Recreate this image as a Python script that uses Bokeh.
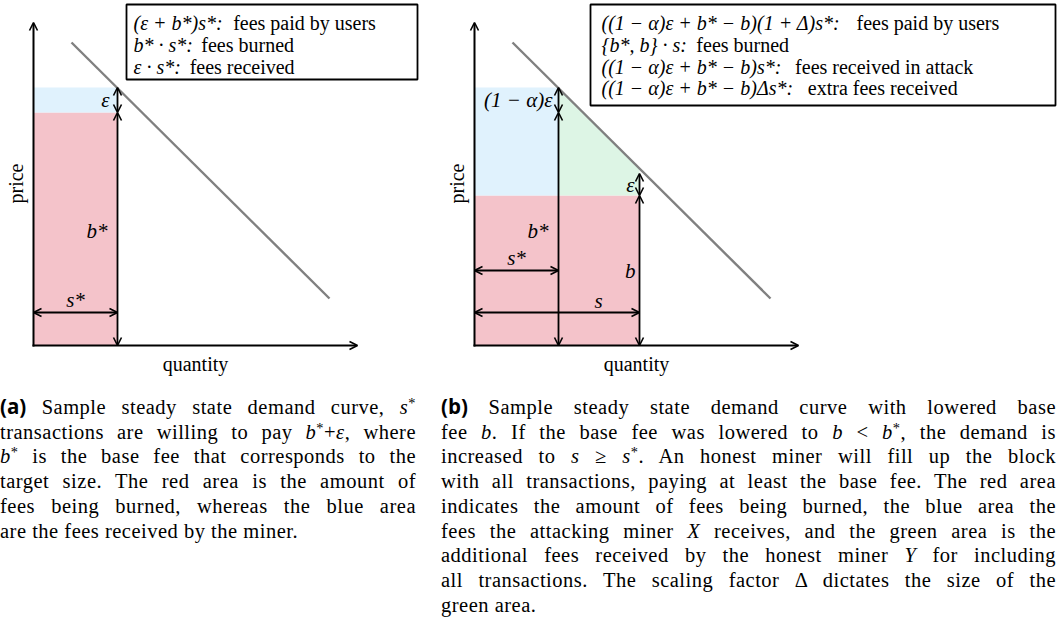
import numpy as np
from bokeh.plotting import figure
from bokeh.models import Range1d, Arrow, OpenHead, Div, Spacer
from bokeh.layouts import column, row
from bokeh.core.properties import value
from bokeh.embed import file_html
from bokeh.resources import INLINE

# ---------------- data (diagram units, origin = axes corner) ----------------
axis_len = 323
demand_q = [38, 296]          # demand curve end points (quantity)
demand_p = [303, 47]          # demand curve end points (price)

# panel (a)
a_s_star = 84
a_b_star = 233
a_eps = 25

# panel (b)
b_s_star = 84
b_s = 165
b_b_star = 233
b_alpha_eps = 25              # (1 - alpha) * eps
b_b = 150
b_eps = 22

legend_a_math = ["(ε + b*)s*:", "b* · s*:", "ε · s*:"]
legend_a_text = ["fees paid by users", "fees burned", "fees received"]
legend_b_math = ["((1 − α)ε + b* − b)(1 + Δ)s*:", "{b*, b} · s:",
                 "((1 − α)ε + b* − b)s*:", "((1 − α)ε + b* − b)Δs*:"]
legend_b_text = ["fees paid by users", "fees burned",
                 "fees received in attack", "extra fees received"]

x_label = "quantity"
y_label = "price"

cap_a_lines = [
    "<b class='lab'>(a)</b> Sample steady state demand curve, <i>s</i><sup>*</sup>",
    "transactions are willing to pay <i>b</i><sup>*</sup>+<i>ε</i>, where",
    "<i>b</i><sup>*</sup> is the base fee that corresponds to the",
    "target size. The red area is the amount of",
    "fees being burned, whereas the blue area",
    "are the fees received by the miner.",
]
cap_b_lines = [
    "<b class='lab'>(b)</b> Sample steady state demand curve with lowered base",
    "fee <i>b</i>. If the base fee was lowered to <i>b</i> &lt; <i>b</i><sup>*</sup>, the demand is",
    "increased to <i>s</i> ≥ <i>s</i><sup>*</sup>. An honest miner will fill up the block",
    "with all transactions, paying at least the base fee. The red area",
    "indicates the amount of fees being burned, the blue area the",
    "fees the attacking miner <i>X</i> receives, and the green area is the",
    "additional fees received by the honest miner <i>Y</i> for including",
    "all transactions. The scaling factor Δ dictates the size of the",
    "green area.",
]

# ---------------- styles ----------------
RED = "#f4c3ca"
BLUE = "#e0f2fd"
GREEN = "#ddf5e5"
GREY = "#808080"
SERIF = value("Liberation Serif")
FS = 20
HEAD = dict(size=8, line_width=1.6, line_color="black")
FIG_H = 378

# approximate advance widths (em) of Liberation Serif Italic, used to place
# the legend descriptions right after the formulas
ITW = {"(": .333, ")": .333, "{": .4, "}": .4, " ": .25, "+": .675, "−": .675,
       "*": .5, ":": .333, "·": .25, ",": .25, "1": .5, "b": .5, "s": .389,
       "ε": .44, "α": .5, "Δ": .612}


def text_w(t, fs):
    return sum(ITW.get(c, .5) for c in t) * fs * 1.04


def make_fig(width, x0):
    p = figure(width=width, height=FIG_H,
               x_range=Range1d(-x0, width - x0), y_range=Range1d(345 - FIG_H, 345),
               output_backend="svg", toolbar_location=None, min_border=0,
               x_axis_location=None, y_axis_location=None)
    p.grid.visible = False
    p.outline_line_color = None
    return p


def axes(p):
    p.add_layout(Arrow(end=OpenHead(**HEAD), x_start=0, y_start=0, x_end=axis_len + 1,
                       y_end=0, line_width=2, line_cap="square"))
    p.add_layout(Arrow(end=OpenHead(**HEAD), x_start=0, y_start=0, x_end=0,
                       y_end=axis_len, line_width=2, line_cap="square"))
    p.text(x=[-18], y=[162], text=[y_label], angle=np.pi / 2, text_align="center",
           text_baseline="middle", text_font=SERIF, text_font_size="20px",
           text_color="black")
    p.text(x=[162], y=[-18], text=[x_label], text_align="center",
           text_baseline="middle", text_font=SERIF, text_font_size="20px",
           text_color="black")


def darrow(p, x0, y0, x1, y1):
    p.add_layout(Arrow(start=OpenHead(**HEAD), end=OpenHead(**HEAD), x_start=x0,
                       y_start=y0, x_end=x1, y_end=y1, line_width=1.8))


def label(p, x, y, t, align):
    p.text(x=[x], y=[y], text=[t], text_align=align, text_baseline="middle",
           text_font=SERIF, text_font_style="italic", text_font_size="21px",
           text_color="black")


def legend(p, left, right, top, bottom, tx, math, desc, ys):
    p.quad(left=[left], right=[right], top=[top], bottom=[bottom], fill_color="white",
           line_color="black", line_width=1.8)
    p.text(x=[tx] * len(math), y=ys, text=math, text_align="left",
           text_baseline="middle", text_font=SERIF, text_font_style="italic",
           text_font_size="%dpx" % FS, text_color="black")
    desc_x = [tx + text_w(m, FS) + 6 for m in math]
    p.text(x=desc_x, y=ys, text=desc, text_align="left", text_baseline="middle",
           text_font=SERIF, text_font_size="%dpx" % FS, text_color="black")


# ---------------- panel (a) ----------------
pa = make_fig(441, 33)
pa.quad(left=[0], right=[a_s_star], bottom=[0], top=[a_b_star], fill_color=RED,
        line_color=None)
pa.quad(left=[0], right=[a_s_star], bottom=[a_b_star], top=[a_b_star + a_eps],
        fill_color=BLUE, line_color=None)
pa.line(demand_q, demand_p, line_color=GREY, line_width=2.4)
axes(pa)
darrow(pa, a_s_star, a_b_star + a_eps, a_s_star, a_b_star)
darrow(pa, a_s_star, a_b_star, a_s_star, 0)
darrow(pa, 0, 33, a_s_star, 33)
label(pa, 76, a_b_star + a_eps / 2, "ε", "right")
label(pa, 74, 115, "b*", "right")
label(pa, a_s_star / 2, 46, "s*", "center")
legend(pa, 93, 384, 341, 266, 100, legend_a_math, legend_a_text,
       [323, 301, 279])

# ---------------- panel (b) ----------------
pb = make_fig(620, 33)
pb.quad(left=[0], right=[b_s], bottom=[0], top=[b_b], fill_color=RED, line_color=None)
pb.quad(left=[0], right=[b_s_star], bottom=[b_b], top=[b_b_star + b_alpha_eps],
        fill_color=BLUE, line_color=None)
top_at_s = float(np.interp(b_s, demand_q, demand_p))
pb.patch([b_s_star, b_s_star, b_s, b_s], [b_b, b_b_star + b_alpha_eps, top_at_s, b_b],
         fill_color=GREEN, line_color=None)
pb.line(demand_q, demand_p, line_color=GREY, line_width=2.4)
axes(pb)
darrow(pb, b_s_star, b_b_star + b_alpha_eps, b_s_star, b_b_star)
darrow(pb, b_s_star, b_b_star, b_s_star, 0)
darrow(pb, b_s, b_b + b_eps, b_s, b_b)
darrow(pb, b_s, b_b, b_s, 0)
darrow(pb, 0, 75, b_s_star, 75)
darrow(pb, 0, 33, b_s, 33)
label(pb, 78, b_b_star + b_alpha_eps / 2, "(1 − α)ε", "right")
label(pb, 74, 115, "b*", "right")
label(pb, b_s_star / 2, 88, "s*", "center")
label(pb, 160, b_b + b_eps / 2, "ε", "right")
label(pb, 161, 75, "b", "right")
label(pb, 124, 45, "s", "center")
legend(pb, 116, 581, 341, 240, 127, legend_b_math, legend_b_text,
       [323, 301, 279, 258])


# ---------------- captions ----------------
STYLE = """<style>
.cap { font-family: "Liberation Serif", "Times New Roman", serif;
       font-size: 20.5px; line-height: 24.7px; letter-spacing: 0.5px; color: #000;
       padding-top: 16px; margin: 0; }
.cap .ln { text-align: justify; text-align-last: justify; }
.cap .last { text-align: left; text-align-last: left; }
.cap .lab { font-family: "Open Sans", "DejaVu Sans", sans-serif;
            font-weight: bold; letter-spacing: 0; }
.cap sup { font-size: 0.7em; line-height: 0; vertical-align: 0.45em; }
</style>"""


def caption(lines, width):
    body = ""
    for i, ln in enumerate(lines):
        cls = "last" if i == len(lines) - 1 else "ln"
        body += "<div class='%s'>%s</div>" % (cls, ln)
    html = STYLE + "<div class='cap' style='width:%dpx;'>%s</div>" % (width, body)
    return Div(text=html, width=width, height=244, margin=0)


div_a = caption(cap_a_lines, 416)
div_b = caption(cap_b_lines, 615)

layout = column(row(pa, pb),
                row(div_a, Spacer(width=25, height=244), div_b,
                    Spacer(width=5, height=244)))

open("out.html", "w").write(file_html(layout, INLINE))
